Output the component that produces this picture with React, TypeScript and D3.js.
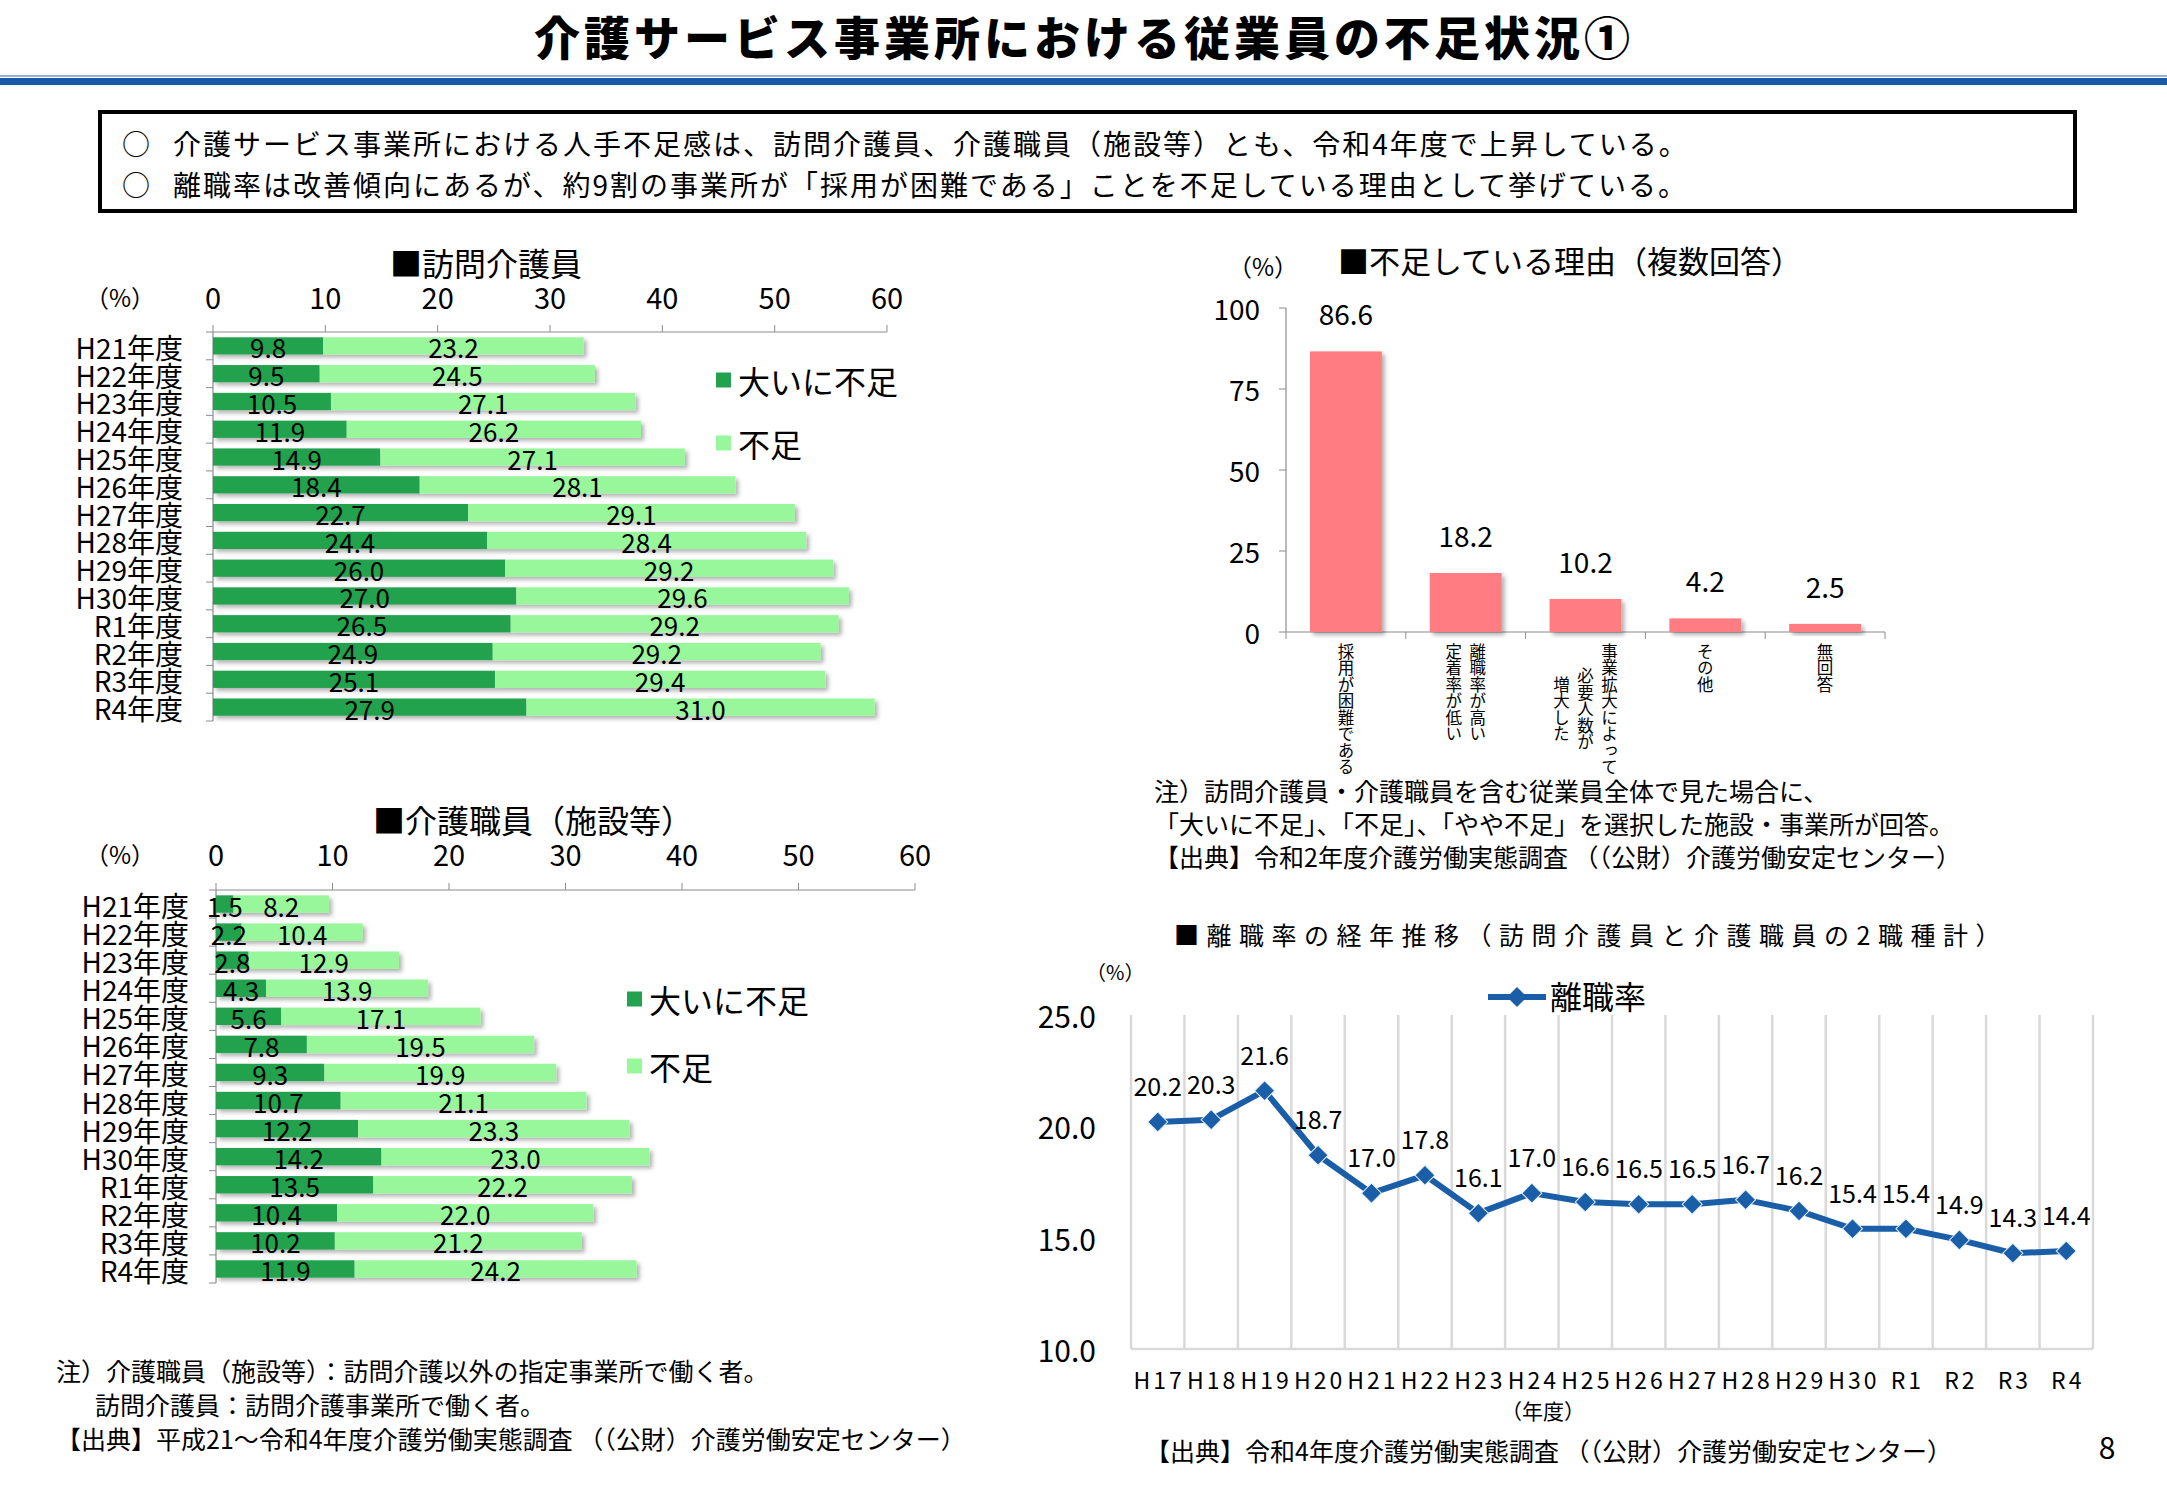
import React from 'react';
import * as d3 from 'd3';

const FONT = '"Noto Sans CJK JP", "Noto Sans", sans-serif';

// ---- data ----
const fiscalYears = ['H21年度', 'H22年度', 'H23年度', 'H24年度', 'H25年度', 'H26年度', 'H27年度', 'H28年度', 'H29年度', 'H30年度', 'R1年度', 'R2年度', 'R3年度', 'R4年度'];
const homeSevere = [9.8, 9.5, 10.5, 11.9, 14.9, 18.4, 22.7, 24.4, 26.0, 27.0, 26.5, 24.9, 25.1, 27.9];
const homeShort = [23.2, 24.5, 27.1, 26.2, 27.1, 28.1, 29.1, 28.4, 29.2, 29.6, 29.2, 29.2, 29.4, 31.0];
const facilitySevere = [1.5, 2.2, 2.8, 4.3, 5.6, 7.8, 9.3, 10.7, 12.2, 14.2, 13.5, 10.4, 10.2, 11.9];
const facilityShort = [8.2, 10.4, 12.9, 13.9, 17.1, 19.5, 19.9, 21.1, 23.3, 23.0, 22.2, 22.0, 21.2, 24.2];
const shortageTicks = [0, 10, 20, 30, 40, 50, 60];
const seriesNames = ['大いに不足', '不足'];

const reasonLabels = [['採用が困難である'], ['離職率が高い', '定着率が低い'], ['事業拡大によって', '必要人数が', '増大した'], ['その他'], ['無回答']];
const reasonValues = [86.6, 18.2, 10.2, 4.2, 2.5];
const reasonTicks = [0, 25, 50, 75, 100];

const turnoverYears = ['H17', 'H18', 'H19', 'H20', 'H21', 'H22', 'H23', 'H24', 'H25', 'H26', 'H27', 'H28', 'H29', 'H30', 'R1', 'R2', 'R3', 'R4'];
const turnoverRates = [20.2, 20.3, 21.6, 18.7, 17.0, 17.8, 16.1, 17.0, 16.6, 16.5, 16.5, 16.7, 16.2, 15.4, 15.4, 14.9, 14.3, 14.4];
const turnoverTicks = [10, 15, 20, 25];

const DARK_GREEN = '#22a24e';
const LIGHT_GREEN = '#99f79b';
const PINK = '#ff7c82';
const BLUE = '#1b5ea8';
const AXIS = '#8c8c8c';

type HCfg = {
  title: string; titleX: number; titleY: number;
  pctY: number; tickY: number;
  xRange: [number, number]; bandRange: [number, number];
  catRight: number; legX: number; legY: [number, number];
  severe: number[]; short: number[]; id: string;
};

function StackedHBar({ cfg }: { cfg: HCfg }) {
  const x = d3.scaleLinear().domain([0, 60]).range(cfg.xRange);
  const y = d3.scaleBand<string>().domain(fiscalYears).range(cfg.bandRange).paddingInner(0.38).paddingOuter(0.19);
  const step = y.step();
  const [b0, b1] = cfg.bandRange;
  const x0 = x(0);
  return (
    <g>
      <text x={cfg.titleX} y={cfg.titleY} fontSize={32} dominantBaseline="central" fontFamily={FONT}>■{cfg.title}</text>
      <text x={85} y={cfg.pctY} fontSize={24} dominantBaseline="central" fontFamily={FONT}>（%）</text>
      {shortageTicks.map(t => (
        <g key={t}>
          <text x={x(t)} y={cfg.tickY} fontSize={29} textAnchor="middle" dominantBaseline="central" fontFamily={FONT}>{t}</text>
          <line x1={x(t)} x2={x(t)} y1={b0 - 7} y2={b0} stroke={AXIS} strokeWidth={1} />
        </g>
      ))}
      <line x1={x0} x2={x(60)} y1={b0} y2={b0} stroke={AXIS} strokeWidth={1.2} />
      <line x1={x0} x2={x0} y1={b0} y2={b1} stroke={AXIS} strokeWidth={1.2} />
      {d3.range(fiscalYears.length + 1).map(i => (
        <line key={i} x1={x0 - 7} x2={x0} y1={b0 + i * step} y2={b0 + i * step} stroke={AXIS} strokeWidth={1} />
      ))}
      {fiscalYears.map((c, i) => {
        const s = cfg.severe[i];
        const sh = cfg.short[i];
        const yy = y(c)!;
        const bh = y.bandwidth();
        const cy = yy + bh / 2;
        return (
          <g key={c}>
            <g filter={`url(#shadow)`}>
              <rect x={x(0)} y={yy} width={x(s) - x(0)} height={bh} fill={DARK_GREEN} />
              <rect x={x(s)} y={yy} width={x(s + sh) - x(s)} height={bh} fill={LIGHT_GREEN} />
            </g>
            <text x={cfg.catRight} y={cy + 1} fontSize={28} textAnchor="end" dominantBaseline="central" fontFamily={FONT}>{c}</text>
            <text x={(x(0) + x(s)) / 2} y={cy + 1} fontSize={26} textAnchor="middle" dominantBaseline="central" fontFamily={FONT}>{s.toFixed(1)}</text>
            <text x={(x(s) + x(s + sh)) / 2} y={cy + 1} fontSize={26} textAnchor="middle" dominantBaseline="central" fontFamily={FONT}>{sh.toFixed(1)}</text>
          </g>
        );
      })}
      {seriesNames.map((n, i) => (
        <g key={n}>
          <rect x={cfg.legX} y={cfg.legY[i] - 7.5} width={15} height={15} fill={i === 0 ? DARK_GREEN : LIGHT_GREEN} />
          <text x={cfg.legX + 22} y={cfg.legY[i]} fontSize={32} dominantBaseline="central" fontFamily={FONT}>{n}</text>
        </g>
      ))}
    </g>
  );
}

function ReasonChart() {
  const x = d3.scaleBand<number>().domain(d3.range(reasonValues.length)).range([1286, 1885]).paddingInner(0.4).paddingOuter(0.2);
  const y = d3.scaleLinear().domain([0, 100]).range([632, 308]);
  const step = x.step();
  const fs = 16.5;
  return (
    <g>
      <text x={1228} y={265} fontSize={24} dominantBaseline="central" fontFamily={FONT}>（%）</text>
      <text x={1338} y={259} fontSize={31} dominantBaseline="central" fontFamily={FONT}>■不足している理由（複数回答）</text>
      <line x1={1286} x2={1286} y1={y(100)} y2={y(0)} stroke={AXIS} strokeWidth={1.2} />
      <line x1={1286} x2={1885} y1={y(0)} y2={y(0)} stroke={AXIS} strokeWidth={1.2} />
      {reasonTicks.map(t => (
        <g key={t}>
          <line x1={1279} x2={1286} y1={y(t)} y2={y(t)} stroke={AXIS} strokeWidth={1} />
          <text x={1260} y={y(t)} fontSize={28} textAnchor="end" dominantBaseline="central" fontFamily={FONT}>{t}</text>
        </g>
      ))}
      {d3.range(reasonValues.length + 1).map(i => (
        <line key={i} x1={1286 + i * step} x2={1286 + i * step} y1={y(0)} y2={y(0) + 7} stroke={AXIS} strokeWidth={1} />
      ))}
      {reasonValues.map((v, i) => {
        const bx = x(i)!;
        const cx = bx + x.bandwidth() / 2;
        const lines = reasonLabels[i];
        const L = d3.max(lines, l => l.length)!;
        return (
          <g key={i}>
            <rect x={bx} y={y(v)} width={x.bandwidth()} height={y(0) - y(v)} fill={PINK} filter="url(#shadow)" />
            <text x={cx} y={y(v) - 38} fontSize={28} textAnchor="middle" dominantBaseline="central" fontFamily={FONT}>{v.toFixed(1)}</text>
            {lines.map((ln, j) => {
              const colX = cx + ((lines.length - 1) / 2 - j) * 24;
              const top = 643 + (L - ln.length) * fs / 2;
              return (
                <text key={j} x={colX} y={top} fontSize={fs} fontFamily={FONT}
                  style={{ writingMode: 'vertical-rl', textOrientation: 'upright' } as React.CSSProperties}>{ln}</text>
              );
            })}
          </g>
        );
      })}
    </g>
  );
}

function TurnoverChart() {
  const x = d3.scaleBand<string>().domain(turnoverYears).range([1131, 2093]);
  const y = d3.scaleLinear().domain([10, 25]).range([1349, 1015]);
  const step = x.step();
  const cx = (c: string) => x(c)! + step / 2;
  const line = d3.line<number>().x((_, i) => cx(turnoverYears[i])).y(d => y(d));
  const h = 10;
  const diamond = d3.symbol(d3.symbolSquare, 2 * h * h)()!;
  return (
    <g>
      <text x={1174} y={934} fontSize={25} letterSpacing={7.5} dominantBaseline="central" fontFamily={FONT}>■離職率の経年推移（訪問介護員と介護職員の2職種計）</text>
      <text x={1086} y={971} fontSize={20} dominantBaseline="central" fontFamily={FONT}>（%）</text>
      <line x1={1488} x2={1546} y1={997} y2={997} stroke={BLUE} strokeWidth={6} />
      <path d={diamond} transform={`translate(1517,997) rotate(45)`} fill={BLUE} />
      <text x={1550} y={995} fontSize={32} dominantBaseline="central" fontFamily={FONT}>離職率</text>
      {d3.range(turnoverYears.length + 1).map(i => (
        <line key={i} x1={1131 + i * step} x2={1131 + i * step} y1={y(25)} y2={y(10)} stroke="#d9d9d9" strokeWidth={2.5} />
      ))}
      <line x1={1131} x2={2093} y1={y(10)} y2={y(10)} stroke="#d9d9d9" strokeWidth={2.5} />
      {turnoverTicks.map(t => (
        <text key={t} x={1096} y={y(t)} fontSize={30} textAnchor="end" dominantBaseline="central" fontFamily={FONT}>{t.toFixed(1)}</text>
      ))}
      <path d={line(turnoverRates)!} fill="none" stroke={BLUE} strokeWidth={6} strokeLinejoin="round" />
      {turnoverRates.map((v, i) => (
        <g key={i}>
          <path d={diamond} transform={`translate(${cx(turnoverYears[i])},${y(v)}) rotate(45)`} fill={BLUE} stroke="#e6f0fb" strokeWidth={1} />
          <text x={cx(turnoverYears[i])} y={y(v) - 37} fontSize={25} textAnchor="middle" dominantBaseline="central" fontFamily={FONT}>{v.toFixed(1)}</text>
        </g>
      ))}
      {turnoverYears.map(c => (
        <text key={c} x={cx(c) + 1.5} y={1379} fontSize={23} letterSpacing={3} textAnchor="middle" dominantBaseline="central" fontFamily={FONT}>{c}</text>
      ))}
      <text x={1543} y={1410} fontSize={21} textAnchor="middle" dominantBaseline="central" fontFamily={FONT}>（年度）</text>
    </g>
  );
}

export default function App() {
  const topCfg: HCfg = {
    title: '訪問介護員', titleX: 390, titleY: 262, pctY: 296, tickY: 296,
    xRange: [213, 887], bandRange: [332, 721], catRight: 183,
    legX: 716, legY: [380, 443], severe: homeSevere, short: homeShort, id: 'a',
  };
  const botCfg: HCfg = {
    title: '介護職員（施設等）', titleX: 373, titleY: 819, pctY: 853, tickY: 853,
    xRange: [216, 915], bandRange: [890, 1283], catRight: 189,
    legX: 627, legY: [999, 1066], severe: facilitySevere, short: facilityShort, id: 'b',
  };
  return (
    <svg width={2167} height={1500} style={{ position: 'fixed', left: 0, top: 0, background: '#fff' }} fontFamily={FONT}>
      <defs>
        <filter id="shadow" x="-10%" y="-20%" width="130%" height="160%">
          <feDropShadow dx={3} dy={3} stdDeviation={2} floodColor="#000" floodOpacity={0.3} />
        </filter>
      </defs>
      <rect x={0} y={0} width={2167} height={1500} fill="#fff" />
      <text x={1084} y={35} fontSize={46} fontWeight={900} letterSpacing={4} textAnchor="middle" dominantBaseline="central">介護サービス事業所における従業員の不足状況①</text>
      <rect x={0} y={75} width={2167} height={2} fill="#8fb6e3" />
      <rect x={0} y={78} width={2167} height={7} fill="#1a5aa4" />
      <rect x={100} y={112} width={1975} height={99} fill="none" stroke="#000" strokeWidth={4} />
      <text x={122} y={143} fontSize={28} dominantBaseline="central">○</text>
      <text x={173} y={143} fontSize={28} letterSpacing={2} dominantBaseline="central">介護サービス事業所における人手不足感は、訪問介護員、介護職員（施設等）とも、令和4年度で上昇している。</text>
      <text x={122} y={184} fontSize={28} dominantBaseline="central">○</text>
      <text x={173} y={184} fontSize={28} letterSpacing={2} dominantBaseline="central">離職率は改善傾向にあるが、約9割の事業所が「採用が困難である」ことを不足している理由として挙げている。</text>

      <StackedHBar cfg={topCfg} />
      <StackedHBar cfg={botCfg} />
      <ReasonChart />
      <TurnoverChart />

      <text x={56} y={1370} fontSize={25} dominantBaseline="central">注）介護職員（施設等）：訪問介護以外の指定事業所で働く者。</text>
      <text x={95} y={1404} fontSize={25} dominantBaseline="central">訪問介護員：訪問介護事業所で働く者。</text>
      <text x={56} y={1438} fontSize={25} dominantBaseline="central">【出典】平成21～令和4年度介護労働実態調査 （（公財）介護労働安定センター）</text>

      <text x={1154} y={790} fontSize={25} dominantBaseline="central">注）訪問介護員・介護職員を含む従業員全体で見た場合に、</text>
      <text x={1154} y={823} fontSize={25} dominantBaseline="central">「大いに不足」、「不足」、「やや不足」を選択した施設・事業所が回答。</text>
      <text x={1154} y={856} fontSize={25} dominantBaseline="central">【出典】令和2年度介護労働実態調査 （（公財）介護労働安定センター）</text>

      <text x={1145} y={1450} fontSize={25} dominantBaseline="central">【出典】令和4年度介護労働実態調査 （（公財）介護労働安定センター）</text>
      <text x={2107} y={1446} fontSize={30} textAnchor="middle" dominantBaseline="central">8</text>
    </svg>
  );
}
